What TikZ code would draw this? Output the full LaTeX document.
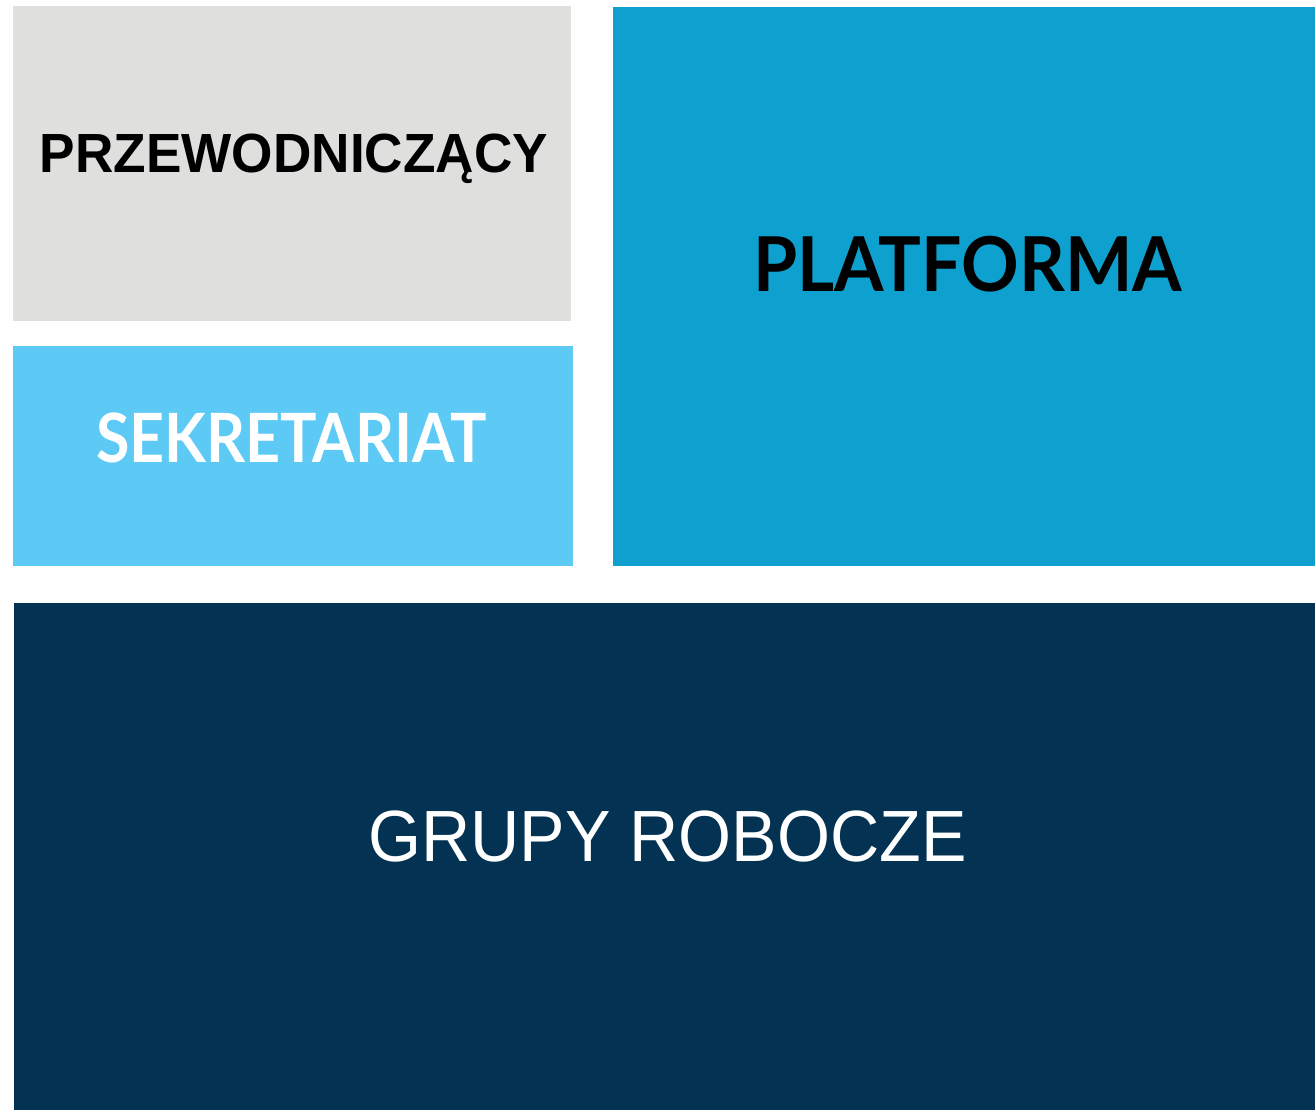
\documentclass[tikz,border=0pt]{standalone}
\usepackage{fontspec}
\setmainfont{Liberation Sans}
\newfontfamily\latofont{Lato}
\definecolor{cgray}{HTML}{DFDFDD}
\definecolor{clight}{HTML}{5DC9F5}
\definecolor{cmid}{HTML}{0EA1CF}
\definecolor{cdark}{HTML}{033253}
\newsavebox{\fitbox}
\newcommand{\fitw}[2]{\sbox{\fitbox}{#2}\pgfmathsetmacro{\fitratio}{#1/\the\wd\fitbox}\scalebox{\fitratio}[1]{\usebox{\fitbox}}}
\tikzset{
  block/.style={rectangle, inner sep=0pt, outer sep=0pt, draw=none, anchor=north west},
  lbl/.style={inner sep=0pt, outer sep=0pt, anchor=base}
}
\begin{document}
\begin{tikzpicture}[x=1pt,y=-1pt]
\useasboundingbox[fill=white] (0,0) rectangle (1315,1110);
\node[block, fill=cgray, minimum width=558pt, minimum height=315pt] (przew) at (13,6) {};
\node[block, fill=clight, minimum width=560pt, minimum height=220pt] (sekr) at (13,346) {};
\node[block, fill=cmid, minimum width=702pt, minimum height=559pt] (plat) at (613,7) {};
\node[block, fill=cdark, minimum width=1301pt, minimum height=507pt] (grupy) at (14,603) {};
\node[lbl, text=black, font=\fontsize{55.2}{58}\selectfont\bfseries] (tprzew) at (294,172.4) {\fitw{508}{PRZEWODNICZĄCY}};
\node[lbl, text=white, font=\fontsize{68}{72}\latofont\bfseries] (tsekr) at (291.5,462.7) {\fitw{391}{SEKRETARIAT}};
\node[lbl, text=black, font=\fontsize{75.7}{80}\latofont\bfseries] (tplat) at (967.5,291) {\fitw{429}{PLATFORMA}};
\node[lbl, text=white, font=\fontsize{72.6}{76}\selectfont] (tgrupy) at (667.5,861) {\fitw{598.4}{GRUPY ROBOCZE}};
\end{tikzpicture}
\end{document}
